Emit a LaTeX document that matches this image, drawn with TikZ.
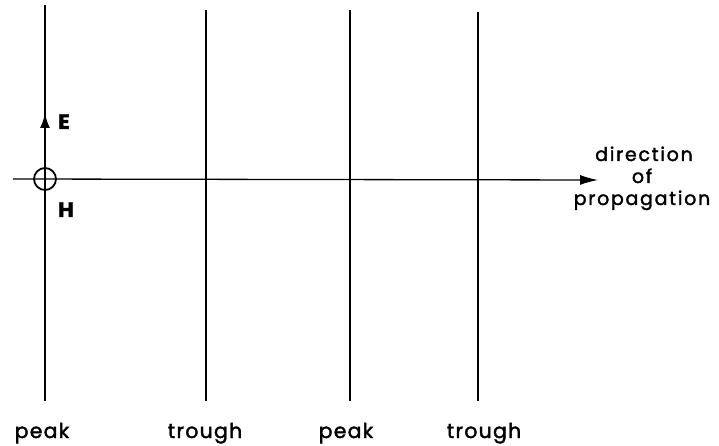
\documentclass[tikz,border=0pt]{standalone}
\usepackage{fontspec}
\setmainfont{Poppins}[LetterSpace=6,FakeBold=1.8]
\newfontfamily\dirfont{Poppins}[LetterSpace=9,FakeBold=1.8]
\usetikzlibrary{arrows.meta}
\begin{document}
\begin{tikzpicture}[x=1pt,y=-1pt,
  wave/.style={line width=1.1pt},
  mainline/.style={line width=2.4pt},
  lbl/.style={font=\fontsize{20.5}{22}\selectfont, inner sep=0pt, anchor=base},
  dirlbl/.style={font=\dirfont\fontsize{19}{21}\selectfont, inner sep=0pt, anchor=base},
  fld/.style={font=\fontsize{21}{23}\selectfont\bfseries, inner sep=0pt, anchor=base}]
\useasboundingbox (0,0) rectangle (719,446);
% wavefront endpoints
\coordinate (p1t) at (45,5);   \coordinate (p1b) at (45,401);
\coordinate (t1t) at (206,10); \coordinate (t1b) at (206,401);
\coordinate (p2t) at (350,10); \coordinate (p2b) at (350,401);
\coordinate (t2t) at (478,12); \coordinate (t2b) at (478,401);
\coordinate (axs) at (13,179);
\node[circle, draw, line width=1.8pt, minimum size=22pt, inner sep=0pt] (H0) at (45,179) {};
\coordinate (Etip) at (45,113);
% wavefronts
\draw[mainline] (p1t) -- (p1b);
\draw[wave] (t1t) -- (t1b);
\draw[wave] (p2t) -- (p2b);
\draw[wave] (t2t) -- (t2b);
% propagation axis
\node[dirlbl] (dir1) at (644,161) {direction};
\node[dirlbl] (dir2) at (642,183) {of};
\node[dirlbl] (dir3) at (642,205) {propagation};
\coordinate (axe) at (598,180);
\draw[line width=1.3pt, -{Latex[length=18pt,width=10pt]}] (axs) -- (axe);
% E arrow
\draw[mainline, -{Latex[length=15pt,width=10pt]}] (H0.north) -- (Etip);
\node[fld] (E) at (64,129) {E};
\node[fld] (H) at (66,217) {H};
% labels
\node[lbl] (l1) at (42,438) {peak};
\node[lbl] (l2) at (205,438) {trough};
\node[lbl] (l3) at (346,438) {peak};
\node[lbl] (l4) at (484,438) {trough};
\end{tikzpicture}
\end{document}
